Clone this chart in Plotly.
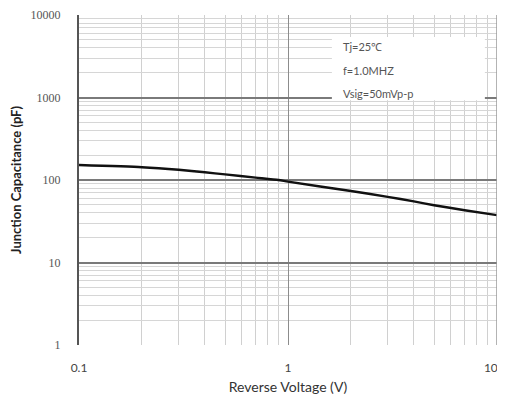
import plotly.graph_objects as go

voltage = [0.1, 0.2, 0.3, 0.4, 0.5, 0.7, 0.9, 1, 2, 3, 4, 5, 7, 10]
capacitance = [152, 143, 133, 124, 117, 107, 100, 95.5, 73.5, 62.5, 55, 49.5, 43, 37.5]

x_tickvals = [0.1, 1, 10]
x_ticktext = ["0.1", "1", "10&nbsp;&nbsp;&nbsp;&nbsp;"]
y_tickvals = [1, 10, 100, 1000, 10000]
y_ticktext = ["1", "10", "100", "1000", "10000"]
notes = ["Tj=25℃", "f=1.0MHZ", "Vsig=50mVp-p"]

fig = go.Figure()
fig.add_trace(go.Scatter(x=voltage, y=capacitance, mode="lines", line_shape="spline",
                         line=dict(color="#111111", width=2.4, smoothing=0.6), showlegend=False))

tickfont = dict(family="Liberation Serif", size=12, color="#555555")
fig.update_xaxes(type="log", range=[-1, 1], tickvals=x_tickvals, ticktext=x_ticktext,
                 automargin=False, ticklabeloverflow="allow",
                 showgrid=True, gridcolor="#8c8c8c", gridwidth=1.4,
                 minor=dict(tickvals=[a * b for b in [0.1, 1] for a in range(2, 10)],
                            showgrid=True, gridcolor="#d0d0d0", gridwidth=1.2),
                 showline=False, zeroline=False, ticks="", ticklabelstandoff=14,
                 tickfont=dict(family="Lato", size=12, color="#444444"),
                 title=dict(text="Reverse Voltage (V)", standoff=8,
                            font=dict(family="Lato", size=14, color="#333333")))
fig.update_yaxes(type="log", range=[0, 4], tickvals=y_tickvals, ticktext=y_ticktext,
                 automargin=False, ticklabeloverflow="allow",
                 showgrid=True, gridcolor="#7a7a7a", gridwidth=1.6,
                 minor=dict(tickvals=[a * b for b in [1, 10, 100, 1000] for a in range(2, 10)],
                            showgrid=True, gridcolor="#d6d6d6", gridwidth=1),
                 showline=True, linecolor="#555555", linewidth=2, zeroline=False,
                 ticks="", ticklabelstandoff=14, tickfont=tickfont,
                 title=dict(text="Junction Capacitance (pF)", standoff=8,
                            font=dict(family="Lato", size=13, color="#222222", weight="bold")))

# frame edges
fig.add_shape(type="line", xref="paper", yref="paper", x0=1, x1=1, y0=0, y1=1,
              line=dict(color="#9a9a9a", width=1.5))

fig.add_shape(type="rect", xref="paper", yref="paper", x0=0.605, x1=0.971, y0=0.742, y1=0.933,
              fillcolor="white", line=dict(width=0), layer="above")
for i, t in enumerate(notes):
    fig.add_annotation(text=t, xref="paper", yref="paper", x=0.627, y=[0.906, 0.833, 0.761][i],
                       xanchor="left", yanchor="middle", showarrow=False,
                       font=dict(family="Lato", size=11, color="#555555"))

fig.update_layout(width=497, height=398, margin=dict(l=71, r=8, t=7, b=61),
                  paper_bgcolor="white", plot_bgcolor="white")
fig.write_html("out.html")
